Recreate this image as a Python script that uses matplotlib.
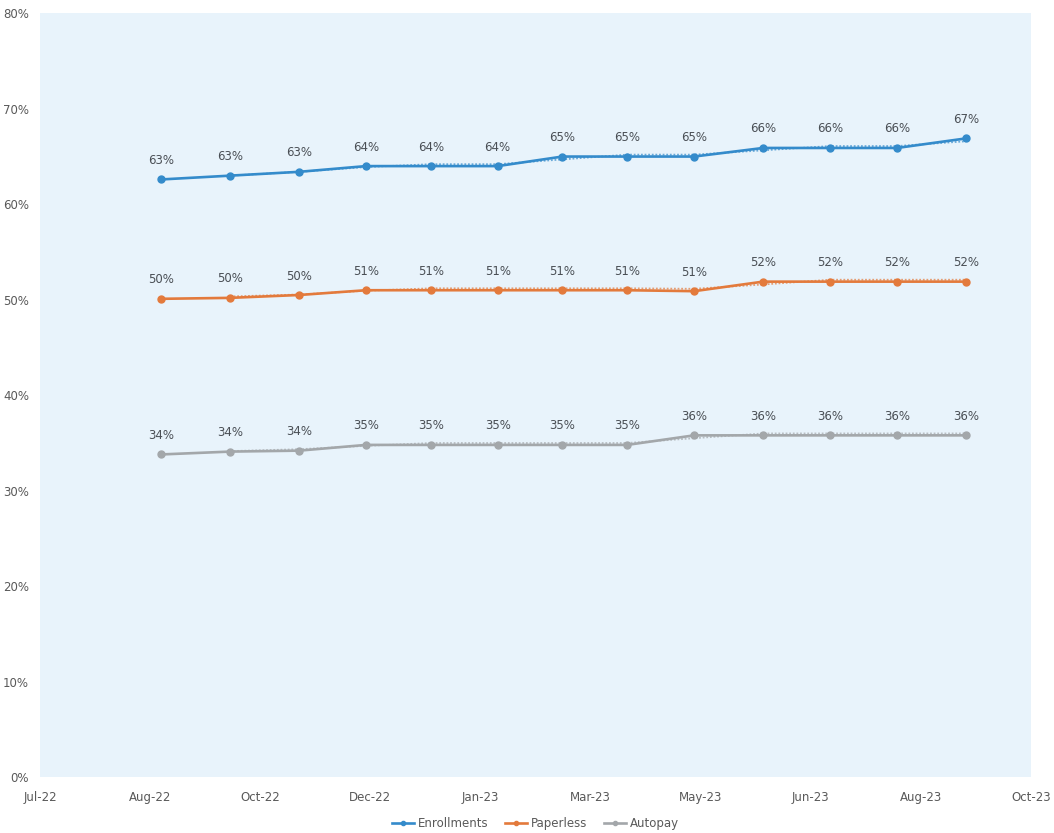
import datetime as dt

import matplotlib
matplotlib.use("Agg")
from matplotlib import pyplot as plt
import matplotlib.dates as mdates
from matplotlib.ticker import FuncFormatter, FixedLocator
import numpy as np

# monthly reporting dates
dates = [
    dt.date(2022, 8, 26), dt.date(2022, 9, 27), dt.date(2022, 10, 29),
    dt.date(2022, 11, 29), dt.date(2022, 12, 29), dt.date(2023, 1, 29),
    dt.date(2023, 2, 28), dt.date(2023, 3, 30), dt.date(2023, 4, 30),
    dt.date(2023, 6, 1), dt.date(2023, 7, 2), dt.date(2023, 8, 2),
    dt.date(2023, 9, 3),
]

# adoption rates, percent of accounts
enrollments = [62.6, 63.0, 63.4, 64.0, 64.0, 64.0, 65.0, 65.0, 65.0, 65.9, 65.9, 65.9, 66.9]
paperless = [50.1, 50.2, 50.5, 51.0, 51.0, 51.0, 51.0, 51.0, 50.9, 51.9, 51.9, 51.9, 51.9]
autopay = [33.8, 34.1, 34.2, 34.8, 34.8, 34.8, 34.8, 34.8, 35.8, 35.8, 35.8, 35.8, 35.8]

series_names = ["Enrollments", "Paperless", "Autopay"]
series_colors = ["#348bcb", "#e37a3c", "#a3a7aa"]

axis_start = dt.date(2022, 7, 1)
tick_step = 51
n_ticks = 10


def main():
    fig = plt.figure(figsize=(10.54, 8.33), dpi=100)
    ax = fig.add_axes([0.038, 0.067, 0.940, 0.917])
    ax.set_facecolor("#e8f3fb")
    for side in ["top", "right", "left", "bottom"]:
        ax.spines[side].set_visible(False)

    x = mdates.date2num(dates)
    for name, values, color in zip(series_names, [enrollments, paperless, autopay], series_colors):
        ax.plot(x, values, color=color, lw=1.9, marker="o", ms=5,
                label=name, zorder=3)
        # two-period moving average trendline
        ma = np.convolve(values, [0.5, 0.5], mode="valid")
        ax.plot(x[1:], ma + 0.2, color=color, lw=1.3, ls=(0, (1, 1)),
                alpha=0.7, zorder=2)
        for xi, v in zip(x, values):
            ax.annotate(f"{v:.0f}%", (xi, v), xytext=(0, 9),
                        textcoords="offset points", ha="center", va="bottom",
                        fontsize=8.5, color="#4a4f55")

    tick_dates = [axis_start + dt.timedelta(days=tick_step * i) for i in range(n_ticks)]
    tick_nums = mdates.date2num(tick_dates)
    ax.set_xlim(tick_nums[0], tick_nums[-1])
    ax.xaxis.set_major_locator(FixedLocator(tick_nums))
    ax.xaxis.set_major_formatter(mdates.DateFormatter("%b-%y"))

    ax.set_ylim(0, 80)
    ax.set_yticks(range(0, 81, 10))
    ax.yaxis.set_major_formatter(FuncFormatter(lambda v, p: f"{v:.0f}%"))

    ax.tick_params(axis="both", length=0, labelsize=8.5, colors="#595959")
    ax.tick_params(axis="x", pad=10)
    ax.tick_params(axis="y", pad=8)

    ax.legend(loc="upper center", bbox_to_anchor=(0.5, -0.038), ncol=3,
              frameon=False, fontsize=8.5, labelcolor="#595959",
              handlelength=1.9, columnspacing=1.4, handletextpad=0.3,
              markerscale=0.6)

    fig.savefig("out.png", dpi=100, facecolor="white")


if __name__ == "__main__":
    main()
